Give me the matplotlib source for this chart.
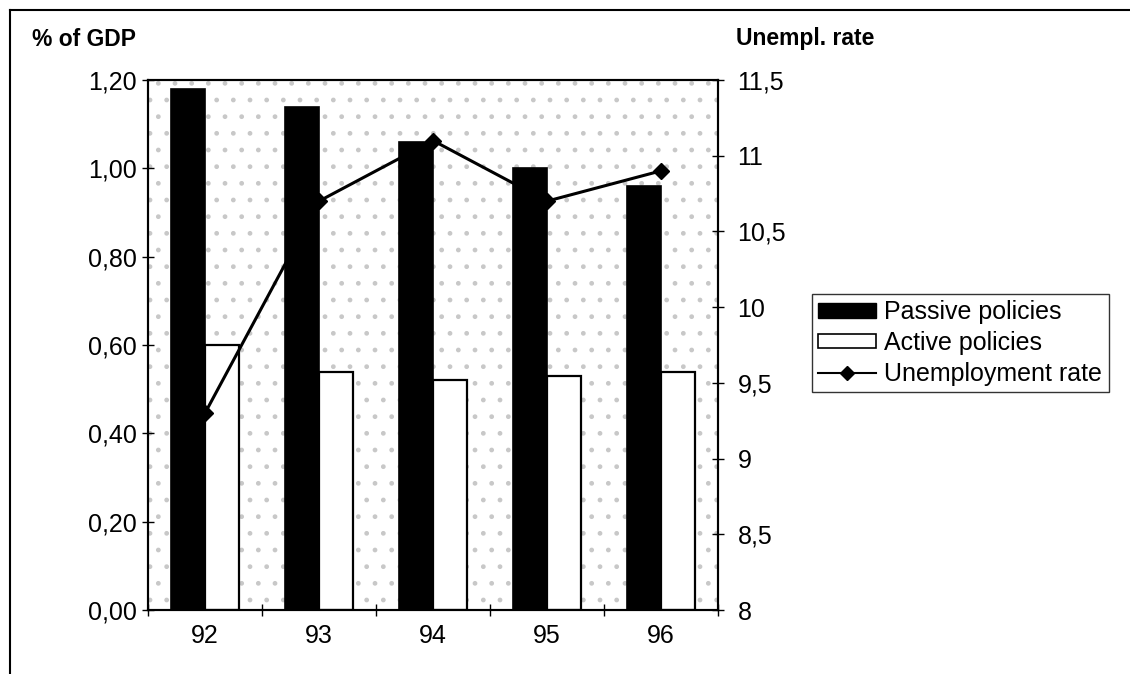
import matplotlib
matplotlib.use("Agg")
import matplotlib.pyplot as plt
import numpy as np
from matplotlib.lines import Line2D
from matplotlib.patches import Rectangle
from matplotlib.ticker import FixedLocator, NullFormatter

years = ['92', '93', '94', '95', '96']
passive = [1.18, 1.14, 1.06, 1.00, 0.96]
active = [0.60, 0.54, 0.52, 0.53, 0.54]
unemp = [9.3, 10.7, 11.1, 10.7, 10.9]

left_ticks = [0.0, 0.2, 0.4, 0.6, 0.8, 1.0, 1.2]
left_labels = ['0,00', '0,20', '0,40', '0,60', '0,80', '1,00', '1,20']
right_ticks = [8, 8.5, 9, 9.5, 10, 10.5, 11, 11.5]
right_labels = ['8', '8,5', '9', '9,5', '10', '10,5', '11', '11,5']

plt.rcParams['font.family'] = ['Liberation Sans', 'DejaVu Sans']

W, H = 1130, 674
fig = plt.figure(figsize=(W / 100, H / 100), dpi=100)
fig.patch.set_facecolor('white')

ax = fig.add_axes([148 / W, 1 - 610 / H, (718 - 148) / W, (610 - 80) / H])
x = np.arange(len(years))
bw = 0.30

# stippled background
bg = Rectangle((0, 0), 1, 1, transform=ax.transAxes, facecolor='white',
               edgecolor='#c8c8c8', hatch='.', linewidth=0, zorder=0)
ax.add_patch(bg)
ax.set_facecolor('white')

ax.bar(x - bw / 2, passive, width=bw, color='black', edgecolor='black',
       linewidth=1.2, zorder=2, label='Passive policies')
ax.bar(x + bw / 2, active, width=bw, color='white', edgecolor='black',
       linewidth=1.6, zorder=2, label='Active policies')

FS = 18
ax.set_xlim(-0.5, len(years) - 0.5)
ax.set_ylim(0, 1.2)
ax.set_yticks(left_ticks)
ax.set_yticklabels(left_labels, fontsize=FS)
ax.set_xticks(x)
ax.set_xticklabels(years, fontsize=FS)
ax.tick_params(axis='x', which='major', length=0, pad=10)
ax.xaxis.set_minor_locator(FixedLocator(np.arange(-0.5, len(years), 1.0)))
ax.xaxis.set_minor_formatter(NullFormatter())
ax.tick_params(axis='x', which='minor', direction='inout', length=8, width=1)
ax.tick_params(axis='y', direction='inout', length=8, width=1, pad=4)
for s in ax.spines.values():
    s.set_linewidth(1.5)
    s.set_color('black')

ax2 = ax.twinx()
ax2.plot(x, unemp, color='black', linewidth=2.2, marker='D', markersize=8,
         zorder=5, label='Unemployment rate')
ax2.set_ylim(8, 11.5)
ax2.set_yticks(right_ticks)
ax2.set_yticklabels(right_labels, fontsize=FS)
ax2.tick_params(axis='y', direction='inout', length=8, width=1, pad=10)
for s in ax2.spines.values():
    s.set_linewidth(1.5)

fig.text(32 / W, 1 - 39 / H, '% of GDP', fontsize=16.5, fontweight='bold',
         ha='left', va='center')
fig.text(736 / W, 1 - 39 / H, 'Unempl. rate', fontsize=16.5, fontweight='bold',
         ha='left', va='center')

handles = [Rectangle((0, 0), 1, 1, facecolor='black', edgecolor='black'),
           Rectangle((0, 0), 1, 1, facecolor='white', edgecolor='black', linewidth=1.2),
           Line2D([], [], color='black', linewidth=1.5, marker='D', markersize=7)]
labels = ['Passive policies', 'Active policies', 'Unemployment rate']
leg = fig.legend(handles, labels, loc='upper left',
                 bbox_to_anchor=(812 / W, 1 - 294 / H), fontsize=FS,
                 frameon=True, fancybox=False, shadow=False,
                 handlelength=2.3, handleheight=0.5, handletextpad=0.35,
                 labelspacing=0.27, borderpad=0.25, borderaxespad=0)
leg.get_frame().set_edgecolor('black')
leg.get_frame().set_linewidth(1.0)

# outer frame
fig.add_artist(Line2D([10 / W, 1], [1 - 10 / H, 1 - 10 / H], color='black',
                      linewidth=1.5, transform=fig.transFigure))
fig.add_artist(Line2D([10 / W, 10 / W], [0, 1 - 10 / H], color='black',
                      linewidth=1.5, transform=fig.transFigure))

fig.savefig('out.png', dpi=100)
